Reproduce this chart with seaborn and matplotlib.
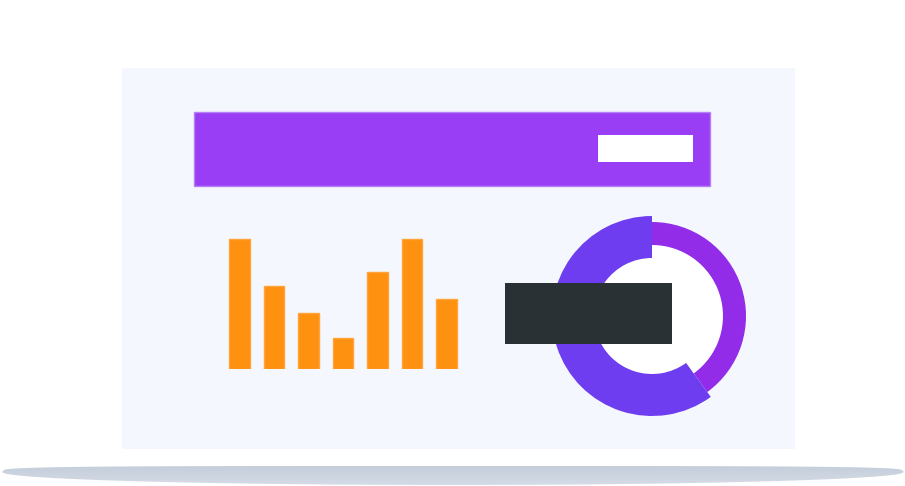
import matplotlib
matplotlib.use("Agg")
import matplotlib.pyplot as plt
import matplotlib.patches as patches
import seaborn as sns
import numpy as np
import pandas as pd

# bar heights (tallest bar = 100)
bar_labels = ["A", "B", "C", "D", "E", "F", "G"]
bar_values = [100, 64, 43, 24, 75, 100, 54]

# donut split
donut_labels = ["main", "rest"]
donut_values = [60, 40]

W, H = 905, 486
ORANGE = "#ff9110"
VIOLET = "#6f3df0"
PURPLE = "#922ce9"
HEADER = "#993ef5"
PANEL = "#f4f7fd"
DARK = "#2a3135"

sns.set_theme(style="white")

fig = plt.figure(figsize=(W / 100, H / 100), dpi=100)
fig.patch.set_facecolor("white")


def px_axes(x0, y0, x1, y1, **kw):
    # axes placed with pixel coords (top-left origin)
    return fig.add_axes([x0 / W, 1 - y1 / H, (x1 - x0) / W, (y1 - y0) / H], **kw)


# background layer in pixel units
base = px_axes(0, 0, W, H)
base.set_xlim(0, W)
base.set_ylim(H, 0)
base.axis("off")

# shadow under the panel: flat-ish top, rounded bottom
t = np.linspace(-1, 1, 400)
cx, a = 453, 451
top = 472 - 6 * (1 - np.abs(t) ** 4) ** 0.25
bot = 472 + 13 * np.sqrt(1 - t ** 2)
xs = cx + a * t
poly = np.concatenate([np.c_[xs, top], np.c_[xs[::-1], bot[::-1]]])
shadow = patches.Polygon(poly, closed=True, facecolor="none", edgecolor="none")
base.add_patch(shadow)
grad = np.linspace(0, 1, 50).reshape(-1, 1)
cmap = matplotlib.colors.LinearSegmentedColormap.from_list("sh", ["#d6dce7", "#c3cdda"])
img = base.imshow(grad, cmap=cmap, extent=(0, W, 465, 486), aspect="auto",
                  origin="upper", zorder=1)
img.set_clip_path(shadow)

# panel
base.add_patch(patches.Rectangle((122, 68), 673, 381, facecolor=PANEL,
                                 edgecolor="none", zorder=2))

# header bar with white pill
base.add_patch(patches.Rectangle((193.5, 111.5), 516.5, 74.5, facecolor=HEADER,
                                 edgecolor="#b680f6", linewidth=1, zorder=3))
base.add_patch(patches.Rectangle((598, 135), 95, 27, facecolor="white",
                                 edgecolor="none", zorder=4))

# bar chart
df = pd.DataFrame({"label": bar_labels, "value": bar_values})
bx = px_axes(222.1, 230, 463.6, 368.5)
sns.barplot(data=df, x="label", y="value", color=ORANGE, saturation=1,
            width=0.6, edgecolor="#ffa33a", linewidth=1, ax=bx)
bx.set_xlim(-0.5, len(bar_labels) - 0.5)
bx.set_ylim(0, 100 * 138.5 / 129)
bx.axis("off")
bx.patch.set_alpha(0)

# donut
dx = px_axes(652 - 110, 316 - 110, 652 + 110, 316 + 110)
dx.patch.set_alpha(0)
dx.add_patch(patches.Circle((0, 0), 0.71, facecolor="white", edgecolor="none",
                            zorder=0.5))
dx.pie(donut_values, colors=["none", PURPLE], radius=0.94, startangle=90,
       counterclock=True, wedgeprops=dict(width=0.23, linewidth=0))
dx.pie(donut_values, colors=[VIOLET, "none"], radius=1.0, startangle=90,
       counterclock=True, wedgeprops=dict(width=0.42, linewidth=0))
# pie resets the limits, so set them afterwards
dx.set_xlim(-1.1, 1.1)
dx.set_ylim(-1.1, 1.1)
dx.set_aspect("equal")
dx.axis("off")

# dark label box over the donut
top_ax = px_axes(0, 0, W, H)
top_ax.set_xlim(0, W)
top_ax.set_ylim(H, 0)
top_ax.axis("off")
top_ax.patch.set_alpha(0)
top_ax.add_patch(patches.Rectangle((505, 283), 167, 60.5, facecolor=DARK,
                                   edgecolor="none"))

fig.savefig("out.png", dpi=100)
